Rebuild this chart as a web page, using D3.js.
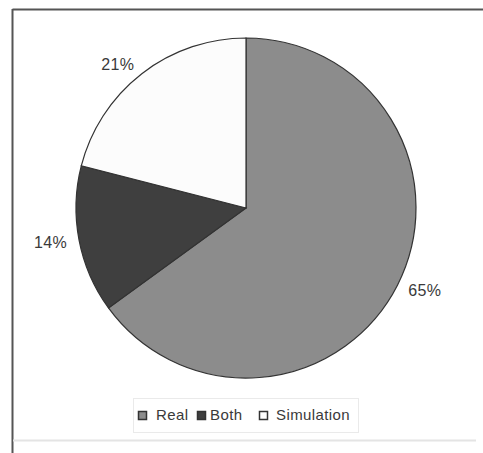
<!DOCTYPE html>
<html>
<head>
<meta charset="utf-8">
<script src="https://cdn.jsdelivr.net/npm/d3@7"></script>
<style>
  html, body { margin: 0; padding: 0; background: #fff; }
  svg { display: block; }
  text { font-family: "Liberation Sans", Arial, sans-serif; }
</style>
</head>
<body>
<svg id="chart" width="483" height="453"></svg>
<script>
// Share of studies by data source
const categories = ["Real", "Both", "Simulation"];
const shares = [65, 14, 21];
const labels = ["65%", "14%", "21%"];
const fills = ["#8c8c8c", "#3f3f3f", "#fcfcfc"];

const svg = d3.select("#chart");
const W = 483, H = 453;

// Outer frame: top and left edges, plus a faint rule near the bottom
svg.append("line").attr("x1", 12.5).attr("x2", W).attr("y1", 9.5).attr("y2", 9.5)
  .attr("stroke", "#555").attr("stroke-width", 2);
svg.append("line").attr("x1", 12.5).attr("x2", 12.5).attr("y1", 9).attr("y2", H)
  .attr("stroke", "#555").attr("stroke-width", 2);
svg.append("line").attr("x1", 13).attr("x2", 476).attr("y1", 440.5).attr("y2", 440.5)
  .attr("stroke", "#e4e4e4").attr("stroke-width", 2);

const cx = 246, cy = 208, r = 170;
const color = d3.scaleOrdinal().domain(categories).range(fills);

const data = categories.map((c, i) => ({ cat: c, value: shares[i], label: labels[i] }));
const pie = d3.pie().value(d => d.value).sort(null);
const arcs = pie(data);
const arc = d3.arc().innerRadius(0).outerRadius(r);

const g = svg.append("g").attr("transform", `translate(${cx},${cy})`);
g.selectAll("path.slice").data(arcs).join("path")
  .attr("class", "slice")
  .attr("d", arc)
  .attr("fill", d => color(d.data.cat))
  .attr("stroke", "#333")
  .attr("stroke-width", 1.2);

// Percentage labels outside each slice
const labelR = 182;
g.selectAll("text.pct").data(arcs).join("text")
  .attr("class", "pct")
  .each(function(d) {
    const a = (d.startAngle + d.endAngle) / 2;
    const x = labelR * Math.sin(a), y = -labelR * Math.cos(a);
    d3.select(this).attr("x", x).attr("y", y)
      .attr("text-anchor", x < 0 ? "end" : "start");
  })
  .attr("dy", "0.35em")
  .attr("font-size", 16)
  .attr("letter-spacing", 0.4)
  .attr("fill", "#3a3a3a")
  .text(d => d.data.label);

// Legend
const lg = svg.append("g");
lg.append("rect").attr("x", 133.5).attr("y", 398.5).attr("width", 225).attr("height", 34)
  .attr("fill", "none").attr("stroke", "#d4d4d4").attr("stroke-dasharray", "1,1");
const items = [
  { x: 138, tx: 156 },
  { x: 197, tx: 210 },
  { x: 259, tx: 276 }
];
categories.forEach((c, i) => {
  lg.append("rect").attr("x", items[i].x + 0.5).attr("y", 411.5).attr("width", 8).attr("height", 8)
    .attr("fill", color(c)).attr("stroke", "#333").attr("stroke-width", 1.5);
  lg.append("text").attr("x", items[i].tx).attr("y", 414.5).attr("dy", "0.35em")
    .attr("font-size", 15).attr("letter-spacing", 0.4).attr("fill", "#3a3a3a").text(c);
});
</script>
</body>
</html>
